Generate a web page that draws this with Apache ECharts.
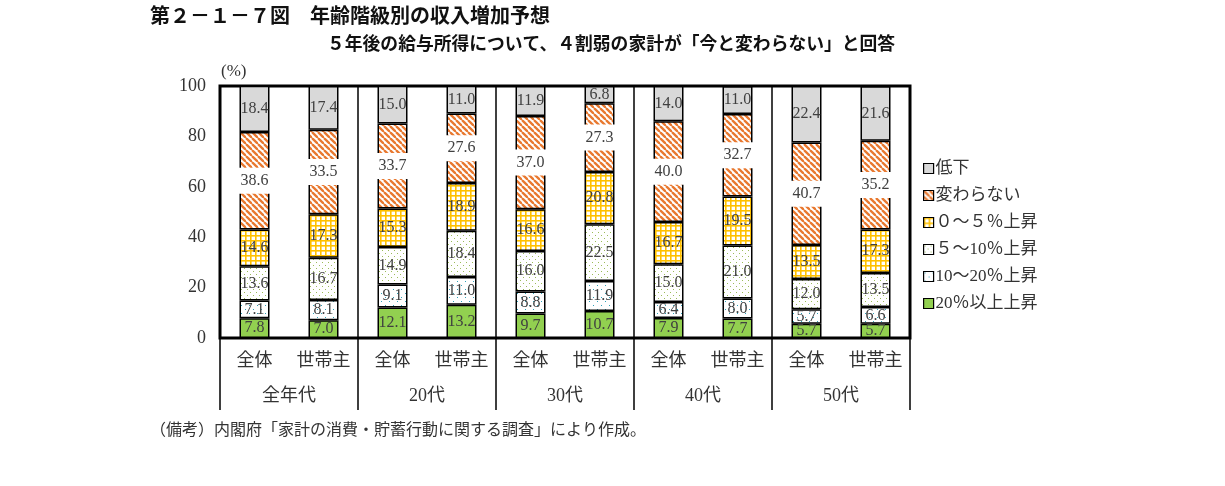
<!DOCTYPE html>
<html>
<head>
<meta charset="utf-8">
<script src="https://cdn.jsdelivr.net/npm/echarts@6/dist/echarts.min.js"></script>
<style>
html, body { margin: 0; padding: 0; background: #fff; }
#main { width: 1225px; height: 486px; }
</style>
</head>
<body>
<div id="main"></div>
<script>
// カテゴリ
var bars = ['全体', '世帯主', '全体', '世帯主', '全体', '世帯主', '全体', '世帯主', '全体', '世帯主'];
var groups = ['全年代', '20代', '30代', '40代', '50代'];

// 系列（下から上へ）
var up20 = [7.8, 7.0, 12.1, 13.2, 9.7, 10.7, 7.9, 7.7, 5.7, 5.7];
var up10 = [7.1, 8.1, 9.1, 11.0, 8.8, 11.9, 6.4, 8.0, 5.7, 6.6];
var up5 = [13.6, 16.7, 14.9, 18.4, 16.0, 22.5, 15.0, 21.0, 12.0, 13.5];
var up0 = [14.6, 17.3, 15.3, 18.9, 16.6, 20.8, 16.7, 19.5, 13.5, 17.3];
var same = [38.6, 33.5, 33.7, 27.6, 37.0, 27.3, 40.0, 32.7, 40.7, 35.2];
var down = [18.4, 17.4, 15.0, 11.0, 11.9, 6.8, 14.0, 11.0, 22.4, 21.6];

var yTicks = [0, 20, 40, 60, 80, 100];

var SERIF = "'Liberation Serif', 'Noto Sans CJK JP', serif";
var GOTHIC = "'Noto Sans CJK JP', sans-serif";

function makePattern(size, draw) {
    var c = document.createElement('canvas');
    c.width = size;
    c.height = size;
    var ctx = c.getContext('2d');
    ctx.fillStyle = '#fff';
    ctx.fillRect(0, 0, size, size);
    draw(ctx, size);
    return { image: c, repeat: 'repeat' };
}

var stripeFill = makePattern(6, function (ctx, s) {
    ctx.strokeStyle = '#e8782f';
    ctx.lineWidth = 2.3;
    for (var x = -s; x <= s; x += s) {
        ctx.beginPath();
        ctx.moveTo(x, 0);
        ctx.lineTo(x + s, s);
        ctx.stroke();
    }
});
var gridFill = makePattern(5, function (ctx, s) {
    ctx.fillStyle = '#ffc000';
    ctx.fillRect(0, 0, s, 1.6);
    ctx.fillRect(0, 0, 1.6, s);
});
var dotFill = makePattern(6, function (ctx) {
    ctx.fillStyle = '#9bbb59';
    ctx.fillRect(1, 1, 1, 1);
    ctx.fillRect(4, 4, 1, 1);
});
var tealFill = makePattern(8, function (ctx) {
    ctx.fillStyle = '#31a0b8';
    ctx.fillRect(1, 1, 1, 1);
    ctx.fillRect(5, 5, 1, 1);
});

function mkSeries(name, data, fill, white) {
    var label = {
        show: true,
        position: 'inside',
        fontFamily: SERIF,
        fontSize: 16,
        color: '#404040',
        formatter: function (p) { return p.value.toFixed(1); }
    };
    if (white) {
        label.backgroundColor = '#fff';
        label.padding = [5, 4];
    }
    return {
        name: name,
        type: 'bar',
        stack: 'all',
        barWidth: 30,
        xAxisIndex: 0,
        data: data,
        itemStyle: { color: fill, borderColor: '#000', borderWidth: 1.5 },
        label: label
    };
}

var chart = echarts.init(document.getElementById('main'));

var option = {
    animation: false,
    backgroundColor: '#fff',
    grid: {
        left: 220, right: 315, top: 86, bottom: 148,
        show: true, borderColor: '#000', borderWidth: 3
    },
    legend: {
        orient: 'vertical',
        left: 918,
        top: 155,
        itemWidth: 10,
        itemHeight: 10,
        itemGap: 10,
        icon: 'rect',
        itemStyle: { borderColor: '#000', borderWidth: 1.2 },
        textStyle: { fontFamily: SERIF, fontSize: 17, color: '#333', lineHeight: 17, padding: [0, 0, 0, -3] },
        data: ['低下', '変わらない', '０～５％上昇', '５～10％上昇', '10～20％上昇', '20％以上上昇']
    },
    xAxis: [
        {
            type: 'category',
            position: 'bottom',
            data: bars,
            axisLine: { show: false },
            axisTick: { show: false },
            axisLabel: { interval: 0, margin: 14, fontFamily: SERIF, fontSize: 18, color: '#333' }
        },
        {
            type: 'category',
            position: 'bottom',
            data: groups,
            axisLine: { show: false },
            axisTick: { show: true, length: 72, interval: 0, lineStyle: { color: '#000', width: 1.5 } },
            splitLine: { show: true, interval: 0, lineStyle: { color: '#000', width: 1.5 } },
            axisLabel: { interval: 0, margin: 49, fontFamily: SERIF, fontSize: 18, color: '#333' }
        }
    ],
    yAxis: {
        type: 'value',
        min: yTicks[0],
        max: yTicks[yTicks.length - 1],
        interval: 20,
        axisLine: { show: false },
        axisTick: { show: false },
        splitLine: { show: false },
        axisLabel: { margin: 14, fontFamily: SERIF, fontSize: 18, color: '#333' }
    },
    graphic: [
        { type: 'text', left: 150, top: 5, style: { text: '第２－１－７図　年齢階級別の収入増加予想', font: 'bold 20px ' + GOTHIC, fill: '#111' } },
        { type: 'text', left: 327, top: 34, style: { text: '５年後の給与所得について、４割弱の家計が「今と変わらない」と回答', font: 'bold 17.8px ' + GOTHIC, fill: '#111' } },
        { type: 'text', left: 221, top: 63, style: { text: '(%)', font: '17px ' + SERIF, fill: '#333' } },
        { type: 'text', left: 150, top: 423, style: { text: '（備考）内閣府「家計の消費・貯蓄行動に関する調査」により作成。', font: '16px ' + SERIF, fill: '#333' } }
    ],
    series: [
        mkSeries('20％以上上昇', up20, '#92d050'),
        mkSeries('10～20％上昇', up10, tealFill),
        mkSeries('５～10％上昇', up5, dotFill),
        mkSeries('０～５％上昇', up0, gridFill),
        mkSeries('変わらない', same, stripeFill, true),
        mkSeries('低下', down, '#d9d9d9')
    ]
};

chart.setOption(option);
</script>
</body>
</html>
